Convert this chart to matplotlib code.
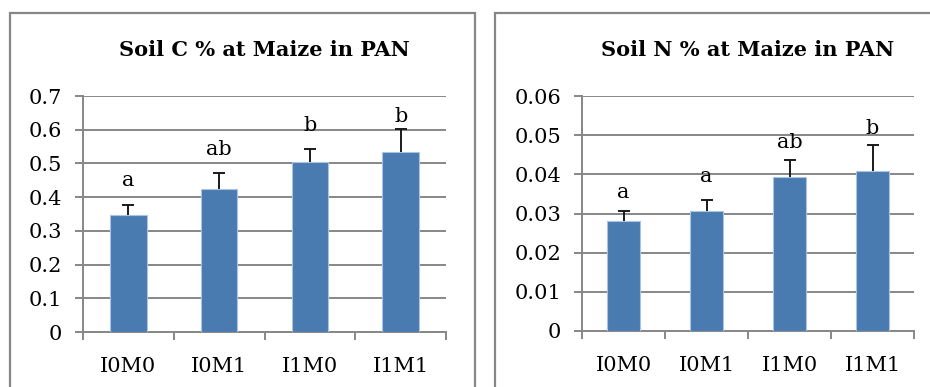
import matplotlib
matplotlib.use('Agg')
import matplotlib.pyplot as plt
from matplotlib.patches import Rectangle

plt.rcParams['font.family'] = ['DejaVu Serif']

# data
categories = ['I0M0', 'I0M1', 'I1M0', 'I1M1']

soil_c = [0.348, 0.423, 0.505, 0.535]
soil_c_err = [0.030, 0.048, 0.038, 0.067]
soil_c_letters = ['a', 'ab', 'b', 'b']
soil_c_letter_y = [0.420, 0.513, 0.585, 0.612]

soil_n = [0.0280, 0.0306, 0.0393, 0.0409]
soil_n_err = [0.0026, 0.0029, 0.0043, 0.0067]
soil_n_letters = ['a', 'a', 'ab', 'b']
soil_n_letter_y = [0.0330, 0.0371, 0.0457, 0.0493]

W, H = 930, 387
fig = plt.figure(figsize=(W / 100, H / 100), dpi=100)

grey = '#878787'
bar_col = '#4a7bb0'

# panel borders (chart areas as in the spreadsheet)
fig.patches.append(Rectangle((9.5 / W, -0.1), (475 - 9.5) / W, 1.1 - 13 / H,
                             transform=fig.transFigure, fill=False,
                             edgecolor=grey, lw=1.6))
fig.patches.append(Rectangle((495 / W, -0.1), 0.6, 1.1 - 13 / H,
                             transform=fig.transFigure, fill=False,
                             edgecolor=grey, lw=1.6))


def panel(rect, vals, errs, letters, letter_y, ymax, step, fmt, title):
    ax = fig.add_axes(rect)
    x = list(range(len(categories)))
    ax.bar(x, vals, width=0.4, color=bar_col, edgecolor='#a9c3e3', lw=0.8,
           zorder=3)
    eb = ax.errorbar(x, vals, yerr=[[0] * len(errs), errs], fmt='none',
                     ecolor='#1a1a1a', elinewidth=1.4, capsize=4.5,
                     capthick=1.4, zorder=4)
    # only the upper cap is wanted
    eb[1][0].set_visible(False)
    for xi, lab, ly in zip(x, letters, letter_y):
        ax.text(xi, ly, lab, ha='center', va='bottom', fontsize=15,
                zorder=5)
    ax.set_xlim(-0.5, len(categories) - 0.5)
    ax.set_ylim(0, ymax)
    n = int(round(ymax / step))
    yt = [i * step for i in range(n + 1)]
    ax.set_yticks(yt)
    ax.set_yticklabels([fmt(v) for v in yt], fontsize=15)
    ax.set_xticks(x)
    ax.set_xticklabels(categories, fontsize=15)
    ax.set_xticks([i - 0.5 for i in range(len(categories) + 1)], minor=True)
    ax.tick_params(axis='x', which='major', length=0, pad=18)
    ax.tick_params(axis='x', which='minor', length=6, width=1.4, color=grey,
                   direction='out')
    ax.tick_params(axis='y', length=6, width=1.4, color=grey, pad=9)
    ax.yaxis.grid(True, color=grey, lw=1.4, zorder=0)
    ax.set_axisbelow(True)
    for s in ['top', 'right']:
        ax.spines[s].set_visible(False)
    for s in ['left', 'bottom']:
        ax.spines[s].set_color(grey)
        ax.spines[s].set_linewidth(1.4)
    ax.set_title(title, fontsize=15, fontweight='bold', pad=29)
    return ax


def fmt_c(v):
    return '0' if v == 0 else ('%.1f' % v)


def fmt_n(v):
    return '0' if v == 0 else ('%.2f' % v)


panel([83 / W, 1 - 332 / H, (446 - 83) / W, (332 - 96) / H],
      soil_c, soil_c_err, soil_c_letters, soil_c_letter_y, 0.7, 0.1, fmt_c,
      'Soil C % at Maize in PAN')
panel([582 / W, 1 - 331 / H, (914 - 582) / W, (331 - 96) / H],
      soil_n, soil_n_err, soil_n_letters, soil_n_letter_y, 0.06, 0.01, fmt_n,
      'Soil N % at Maize in PAN')

fig.savefig('out.png', dpi=100)
